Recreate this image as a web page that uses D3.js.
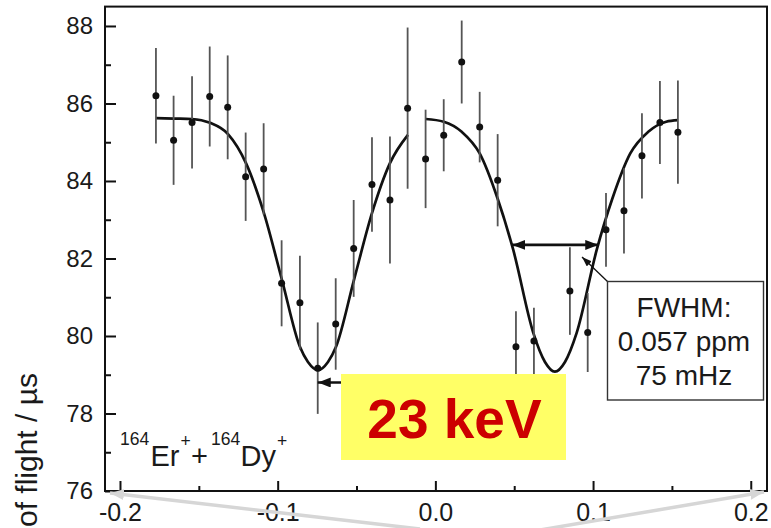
<!DOCTYPE html>
<html>
<head>
<meta charset="utf-8">
<script src="https://cdn.jsdelivr.net/npm/d3@7"></script>
<style>
  html, body { margin: 0; padding: 0; background: #fff; }
  svg { display: block; font-family: "Liberation Sans", Arial, Helvetica, sans-serif; }
</style>
</head>
<body>
<svg id="chart" width="771" height="528"></svg>
<script>
// Frequency detuning (ppm) and mean time of flight (µs) with 1σ errors
const scanX = [-0.1772, -0.1660, -0.1543, -0.1431, -0.1317, -0.1203, -0.1089, -0.0975,
               -0.0859, -0.0746, -0.0632, -0.0518, -0.0402, -0.0288, -0.0176,
               -0.0062, 0.0053, 0.0167, 0.0281, 0.0395, 0.0511, 0.0625,
               0.0853, 0.0966, 0.1082, 0.1196, 0.1310, 0.1424, 0.1538];
const tofMean = [86.20, 85.05, 85.51, 86.18, 85.90, 84.11, 84.31, 81.36,
                 80.86, 79.17, 80.31, 82.26, 83.91, 83.51, 85.88,
                 84.57, 85.18, 87.07, 85.39, 84.02, 79.72, 79.87,
                 81.16, 80.09, 82.74, 83.23, 84.65, 85.51, 85.26];
const tofErr = [1.23, 1.15, 1.19, 1.29, 1.34, 1.14, 1.18, 1.11,
                1.21, 1.18, 1.18, 1.25, 1.22, 1.64, 2.08,
                1.27, 0.93, 1.07, 0.91, 1.19, 0.92, 0.86,
                1.13, 1.02, 0.95, 1.10, 1.10, 1.07, 1.33];

// Fitted resonance curves (two scans)
const fitLeftX = [-0.1772, -0.1658, -0.1543, -0.1429, -0.1315, -0.1201, -0.1087, -0.0973,
                  -0.0859, -0.0808, -0.0744, -0.0681, -0.0630, -0.0516, -0.0402, -0.0288, -0.0174];
const fitLeftY = [85.62, 85.61, 85.60, 85.50, 85.21, 84.46, 83.17, 81.45,
                  79.72, 79.33, 79.12, 79.33, 79.72, 81.45, 83.17, 84.46, 85.19];
const fitRightX = [-0.0062, 0.0053, 0.0167, 0.0281, 0.0395, 0.0494, 0.0621, 0.0695, 0.0758,
                   0.0822, 0.0896, 0.1023, 0.1122, 0.1236, 0.1350, 0.1464, 0.1538];
const fitRightY = [85.60, 85.53, 85.27, 84.71, 83.54, 82.22, 80.08, 79.33, 79.08,
                   79.33, 80.08, 82.22, 83.54, 84.71, 85.27, 85.53, 85.57];

// Axis ticks
const xTicks = [-0.2, -0.1, 0.0, 0.1, 0.2];
const xTickLabels = ["-0.2", "-0.1", "0.0", "0.1", "0.2"];
const xMinorTicks = [-0.15, -0.05, 0.05, 0.15];
const yTicks = [76, 78, 80, 82, 84, 86, 88];
const yTickLabels = ["76", "78", "80", "82", "84", "86", "88"];
const yMinorTicks = [77, 79, 81, 83, 85, 87];

// Annotation texts
const yAxisTitle = "of flight / µs";
const energyLabel = "23 keV";
const fwhmLines = ["FWHM:", "0.057 ppm", "75 mHz"];
// FWHM arrow (x from, x to, y level) and the marker arrow at the left dip
const fwhmArrow = [0.0488, 0.1033, 82.35];
const dipArrow = [-0.0746, -0.030, 78.8];
const pointerTip = [0.0930, 82.04];

const svg = d3.select("#chart");
const W = 771, H = 528;
const plot = { left: 105, right: 767, top: 6.6, bottom: 491 };

const x = d3.scaleLinear().domain([-0.2095, 0.2103]).range([plot.left, plot.right]);
const y = d3.scaleLinear().domain([76, 88.5]).range([plot.bottom, plot.top]);

const ink = "#111";

// Arrowhead markers
const defs = svg.append("defs");
function marker(id, color, len, wid) {
  defs.append("marker")
    .attr("id", id)
    .attr("viewBox", `0 0 ${len} ${wid}`)
    .attr("refX", len).attr("refY", wid / 2)
    .attr("markerUnits", "userSpaceOnUse")
    .attr("markerWidth", len).attr("markerHeight", wid)
    .attr("orient", "auto-start-reverse")
    .append("path")
    .attr("d", `M0,0L${len},${wid / 2}L0,${wid}Z`)
    .attr("fill", color);
}
marker("ah", ink, 13, 10);
marker("ahSmall", ink, 10, 7);
marker("ahGrey", "#d6d6d6", 14, 11);

// Frame
const frame = svg.append("g");
frame.append("rect")
  .attr("x", plot.left).attr("y", plot.top)
  .attr("width", plot.right - plot.left).attr("height", plot.bottom - plot.top)
  .attr("fill", "none").attr("stroke", ink).attr("stroke-width", 2);

// Y axis: minor and major ticks pointing inward
svg.append("g")
  .attr("transform", `translate(${plot.left},0)`)
  .call(d3.axisLeft(y).tickValues(yMinorTicks).tickSize(-6).tickFormat(""))
  .call(g => g.select(".domain").remove())
  .call(g => g.selectAll("line").attr("stroke", ink).attr("stroke-width", 2));

svg.append("g")
  .attr("transform", `translate(${plot.left},0)`)
  .call(d3.axisLeft(y).tickValues(yTicks).tickSize(-11).tickPadding(12)
    .tickFormat((d, i) => yTickLabels[i]))
  .call(g => g.select(".domain").remove())
  .call(g => g.selectAll("line").attr("stroke", ink).attr("stroke-width", 2))
  .call(g => g.selectAll("text")
    .attr("fill", "#1a1a1a")
    .style("font-size", "24px")
    .style("font-family", "\"Liberation Sans\", Arial, sans-serif"));

// X axis
svg.append("g")
  .attr("transform", `translate(0,${plot.bottom})`)
  .call(d3.axisBottom(x).tickValues(xMinorTicks).tickSize(-5).tickFormat(""))
  .call(g => g.select(".domain").remove())
  .call(g => g.selectAll("line").attr("stroke", ink).attr("stroke-width", 2));

svg.append("g")
  .attr("transform", `translate(0,${plot.bottom})`)
  .call(d3.axisBottom(x).tickValues(xTicks).tickSize(-10).tickPadding(12)
    .tickFormat((d, i) => xTickLabels[i]))
  .call(g => g.select(".domain").remove())
  .call(g => g.selectAll("line").attr("stroke", ink).attr("stroke-width", 2))
  .call(g => g.selectAll("text")
    .attr("fill", "#1a1a1a")
    .style("font-size", "25px")
    .style("font-family", "\"Liberation Sans\", Arial, sans-serif"));

// Y axis title (rotated)
svg.append("text")
  .attr("transform", "translate(37,373) rotate(-90)")
  .attr("text-anchor", "end")
  .attr("fill", "#1a1a1a")
  .style("font-size", "30px")
  .text(yAxisTitle);

// Fit curves
const line = d3.line().x(d => x(d[0])).y(d => y(d[1])).curve(d3.curveMonotoneX);
[[fitLeftX, fitLeftY], [fitRightX, fitRightY]].forEach(([fx, fy]) => {
  svg.append("path")
    .datum(fx.map((v, i) => [v, fy[i]]))
    .attr("d", line)
    .attr("fill", "none")
    .attr("stroke", ink)
    .attr("stroke-width", 2.7);
});

// Error bars and data points
const pts = scanX.map((v, i) => ({ x: v, y: tofMean[i], e: tofErr[i] }));
svg.append("g").selectAll("line").data(pts).join("line")
  .attr("x1", d => x(d.x)).attr("x2", d => x(d.x))
  .attr("y1", d => y(d.y + d.e)).attr("y2", d => y(d.y - d.e))
  .attr("stroke", "#555").attr("stroke-width", 1.8);
svg.append("g").selectAll("circle").data(pts).join("circle")
  .attr("cx", d => x(d.x)).attr("cy", d => y(d.y))
  .attr("r", 3.5).attr("fill", ink);

// FWHM double arrow
svg.append("line")
  .attr("x1", x(fwhmArrow[0])).attr("x2", x(fwhmArrow[1]))
  .attr("y1", y(fwhmArrow[2])).attr("y2", y(fwhmArrow[2]))
  .attr("stroke", ink).attr("stroke-width", 2.6)
  .attr("marker-start", "url(#ah)").attr("marker-end", "url(#ah)");

// Arrow at the left dip
svg.append("line")
  .attr("x1", x(dipArrow[1])).attr("x2", x(dipArrow[0]))
  .attr("y1", y(dipArrow[2])).attr("y2", y(dipArrow[2]))
  .attr("stroke", ink).attr("stroke-width", 2.6)
  .attr("marker-end", "url(#ah)");

// Energy label box
const eBox = { x: 341, y: 374, w: 225, h: 86 };
svg.append("rect")
  .attr("x", eBox.x).attr("y", eBox.y).attr("width", eBox.w).attr("height", eBox.h)
  .attr("fill", "#ffff66");
svg.append("text")
  .attr("x", eBox.x + eBox.w / 2 + 1).attr("y", 438)
  .attr("text-anchor", "middle")
  .attr("fill", "#cc0000")
  .style("font-size", "55px").style("font-weight", "bold")
  .text(energyLabel);

// FWHM note box with pointer
const fBox = { x: 607.5, y: 281.5, w: 156, h: 118.5 };
svg.append("line")
  .attr("x1", fBox.x).attr("y1", fBox.y)
  .attr("x2", x(pointerTip[0])).attr("y2", y(pointerTip[1]))
  .attr("stroke", ink).attr("stroke-width", 1.3)
  .attr("marker-end", "url(#ahSmall)");
svg.append("rect")
  .attr("x", fBox.x).attr("y", fBox.y).attr("width", fBox.w).attr("height", fBox.h)
  .attr("fill", "#fff").attr("stroke", "#333").attr("stroke-width", 1.4);
svg.append("g").selectAll("text").data(fwhmLines).join("text")
  .attr("x", 684).attr("y", (d, i) => 317 + i * 34.2)
  .attr("text-anchor", "middle")
  .attr("fill", "#1a1a1a")
  .style("font-size", "28px")
  .text(d => d);

// Isobar label with superscripts
const iso = svg.append("text").attr("fill", "#1a1a1a");
const isoParts = [
  { t: "164", dx: 0, sup: true }, { t: "Er", dx: 30.5, sup: false },
  { t: "+", dx: 60.5, sup: true }, { t: "+", dx: 71, sup: false },
  { t: "164", dx: 91, sup: true }, { t: "Dy", dx: 120.5, sup: false },
  { t: "+", dx: 157, sup: true }
];
isoParts.forEach(p => {
  iso.append("tspan")
    .attr("x", 120 + p.dx)
    .attr("y", p.sup ? (p.t === "+" ? 447 : 445) : 465.5)
    .style("font-size", p.sup ? "17.5px" : "29px")
    .text(p.t);
});

// Light grey zoom guide lines below the axis
svg.append("line")
  .attr("x1", 420).attr("y1", 529).attr("x2", 110).attr("y2", 493)
  .attr("stroke", "#d6d6d6").attr("stroke-width", 3.5)
  .attr("marker-end", "url(#ahGrey)");
svg.append("line")
  .attr("x1", 540).attr("y1", 530).attr("x2", 764).attr("y2", 492)
  .attr("stroke", "#d6d6d6").attr("stroke-width", 3.5)
  .attr("marker-end", "url(#ahGrey)");
</script>
</body>
</html>
